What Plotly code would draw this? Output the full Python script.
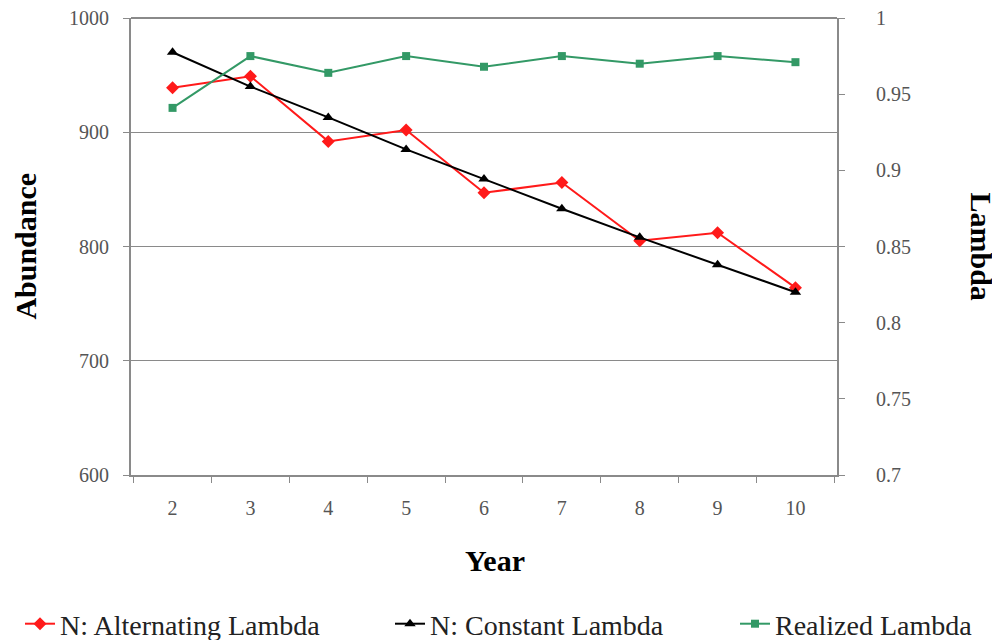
import plotly.graph_objects as go

years = ["2", "3", "4", "5", "6", "7", "8", "9", "10"]
n_alternating = [939, 949, 892, 902, 847, 856, 805, 812, 764]
n_constant = [970, 940, 913, 885, 859, 833, 808, 784, 760]
realized_lambda = [0.941, 0.975, 0.964, 0.975, 0.968, 0.975, 0.970, 0.975, 0.971]

abund_ticks = [600, 700, 800, 900, 1000]
lambda_ticks = [0.7, 0.75, 0.8, 0.85, 0.9, 0.95, 1]
lambda_labels = ["0.7", "0.75", "0.8", "0.85", "0.9", "0.95", "1"]

SERIF = "Liberation Serif"
AXC = "#8a8a8a"
W, H = 992, 632  # page body has an 8px margin

fig = go.Figure()
fig.add_trace(go.Scatter(
    x=years, y=n_alternating, name="N: Alternating Lambda", mode="lines+markers",
    line=dict(color="#ff1a1a", width=2),
    marker=dict(symbol="diamond", size=10, color="#ff1a1a"),
    legend="legend",
))
fig.add_trace(go.Scatter(
    x=years, y=n_constant, name="N: Constant Lambda", mode="lines+markers",
    line=dict(color="#000000", width=2),
    marker=dict(symbol="triangle-up", size=10, color="#000000"),
    legend="legend2",
))
fig.add_trace(go.Scatter(
    x=years, y=realized_lambda, name="Realized Lambda", mode="lines+markers",
    yaxis="y2",
    line=dict(color="#339966", width=2),
    marker=dict(symbol="square", size=8, color="#339966"),
    legend="legend3",
))

def leg(xpix):
    return dict(
        orientation="h", xref="container", yref="container",
        x=xpix / W, xanchor="left", y=16 / H, yanchor="middle",
        font=dict(size=28, family=SERIF, color="#222"),
        itemwidth=30, bgcolor="rgba(0,0,0,0)",
    )

fig.update_layout(
    width=W, height=H,
    margin=dict(l=123, r=163, t=10, b=165, autoexpand=False),
    paper_bgcolor="white", plot_bgcolor="white",
    font=dict(family=SERIF, color="#222"),
    showlegend=True,
    legend=leg(12),
    legend2=leg(382),
    legend3=leg(727),
    xaxis=dict(
        type="category", categoryorder="array", categoryarray=years,
        tickson="boundaries", ticks="outside", ticklen=6, tickcolor=AXC,
        showline=True, linecolor=AXC, linewidth=2, mirror=False,
        showgrid=False, tickfont=dict(size=20, color="#555", family=SERIF),
        ticklabelstandoff=14, ticklabeloverflow="allow",
    ),
    yaxis=dict(
        range=[600, 1000], tickvals=abund_ticks,
        ticks="outside", ticklen=6, tickcolor=AXC,
        showline=True, linecolor=AXC, linewidth=2,
        showgrid=True, gridcolor=AXC, gridwidth=1,
        zeroline=False, tickfont=dict(size=20, color="#555", family=SERIF),
        ticklabelstandoff=10, ticklabeloverflow="allow",
    ),
    yaxis2=dict(
        range=[0.7, 1.0], tickvals=lambda_ticks, ticktext=lambda_labels,
        overlaying="y", side="right",
        ticks="outside", ticklen=6, tickcolor=AXC,
        showline=True, linecolor=AXC, linewidth=2,
        showgrid=False, zeroline=False,
        tickfont=dict(size=20, color="#555", family=SERIF),
        ticklabelstandoff=27, ticklabeloverflow="allow",
    ),
    annotations=[
        dict(text="<b>Abundance</b>", textangle=-90, xref="paper", yref="paper",
             x=-0.150, y=0.5, xanchor="center", yanchor="middle", showarrow=False,
             font=dict(size=30, family=SERIF, color="#000")),
        dict(text="<b>Lambda</b>", textangle=90, xref="paper", yref="paper",
             x=1.204, y=0.5, xanchor="center", yanchor="middle", showarrow=False,
             font=dict(size=30, family=SERIF, color="#000")),
        dict(text="<b>Year</b>", xref="paper", yref="paper",
             x=0.515, y=-0.188, xanchor="center", yanchor="middle", showarrow=False,
             font=dict(size=30, family=SERIF, color="#000")),
    ],
)
fig.add_shape(type="line", xref="paper", yref="paper", x0=0, x1=1, y0=1, y1=1,
              line=dict(color=AXC, width=2))

fig.write_html("out.html")
